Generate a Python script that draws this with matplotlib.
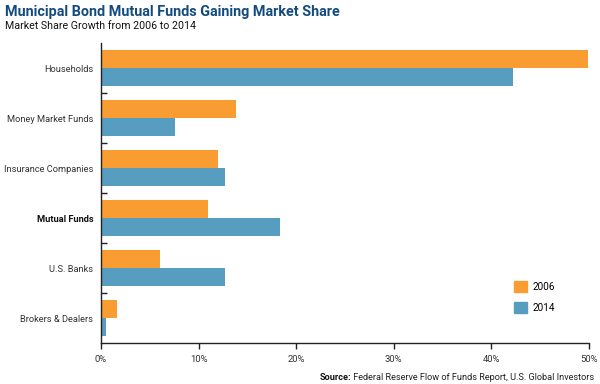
import numpy as np
import matplotlib
matplotlib.use("Agg")
import matplotlib.pyplot as plt
from matplotlib.patches import Patch

categories = [
    "Households",
    "Money Market Funds",
    "Insurance Companies",
    "Mutual Funds",
    "U.S. Banks",
    "Brokers & Dealers",
]
share_2006 = [49.9, 13.8, 12.0, 11.0, 6.0, 1.6]
share_2014 = [42.2, 7.6, 12.7, 18.3, 12.7, 0.5]
x_ticks = [0, 10, 20, 30, 40, 50]

orange = "#F99D33"
blue = "#579DC0"
navy = "#134B7F"
label_font = ["Roboto", "DejaVu Sans"]
narrow_font = ["Liberation Sans Narrow", "Roboto", "DejaVu Sans"]

fig = plt.figure(figsize=(6, 3.84), dpi=100)
ax = fig.add_axes([101 / 600, 41 / 384, 488 / 600, 300 / 384])

y = np.arange(len(categories))
h = 0.36
ax.barh(y - h / 2, share_2006, height=h, color=orange, label="2006")
ax.barh(y + h / 2, share_2014, height=h, color=blue, label="2014")

ax.set_ylim(len(categories) - 0.5, -0.5)
ax.set_xlim(0, 50)

ax.set_yticks(y)
ax.set_yticklabels(categories, family=label_font, fontsize=6.7, color="#333333")
for lbl in ax.get_yticklabels():
    if lbl.get_text() == "Mutual Funds":
        lbl.set_fontweight("bold")
        lbl.set_color("#111111")
ax.tick_params(axis="y", which="major", length=0, pad=5.5)
ax.set_yticks(np.arange(0.5, len(categories) - 1, 1), minor=True)
ax.tick_params(axis="y", which="minor", direction="in", length=4, width=1, color="#222222")

ax.set_xticks(x_ticks)
ax.set_xticklabels([f"{v}%" for v in x_ticks], family=label_font, fontsize=6.8, color="#333333")
ax.tick_params(axis="x", direction="out", length=4, width=1, color="#222222", pad=5)

for side in ["top", "right"]:
    ax.spines[side].set_visible(False)
for side in ["left", "bottom"]:
    ax.spines[side].set_color("#222222")
    ax.spines[side].set_linewidth(1)

handles = [Patch(color=orange, label="2006"), Patch(color=blue, label="2014")]
fig.legend(handles=handles, loc="upper left", bbox_to_anchor=(505 / 600, 1 - 272 / 384),
           frameon=False, handlelength=1.3, handleheight=1.3, labelspacing=1.0,
           handletextpad=0.6, prop={"family": label_font, "size": 7.2})

fig.text(5 / 600, 1 - 12 / 384, "Municipal Bond Mutual Funds Gaining Market Share",
         family=narrow_font, fontweight="bold", fontsize=10.4, color=navy, va="center")
fig.text(5 / 600, 1 - 26 / 384, "Market Share Growth from 2006 to 2014",
         family=label_font, fontsize=7.7, color="#111111", va="center")

src = fig.text(594 / 600, 1 - 377 / 384, " Federal Reserve Flow of Funds Report, U.S. Global Investors",
               family=narrow_font, fontsize=6.6, color="#222222", ha="right", va="center")
fig.canvas.draw()
bb = src.get_window_extent(renderer=fig.canvas.get_renderer())
x0 = fig.transFigure.inverted().transform((bb.x0, bb.y0))[0]
fig.text(x0, 1 - 377 / 384, "Source:", family=narrow_font, fontsize=6.6, fontweight="bold",
         color="#111111", ha="right", va="center")

fig.savefig("out.png", dpi=100)
